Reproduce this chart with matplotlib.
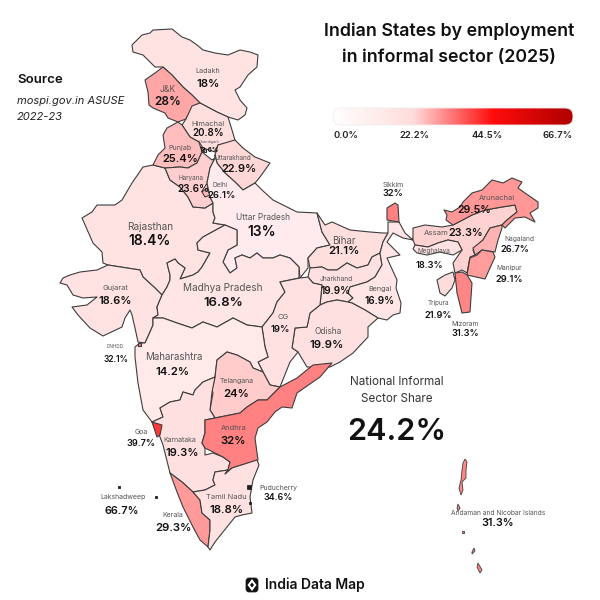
import matplotlib
matplotlib.use('Agg')
import matplotlib.pyplot as plt
import numpy as np
from matplotlib.colors import LinearSegmentedColormap
from matplotlib.patches import FancyBboxPatch, Polygon

plt.rcParams['font.family'] = ['Inter', 'DejaVu Sans']

# informal sector share by state, %
states = ['Ladakh', 'J&K', 'Himachal', 'Punjab', 'Uttarakhand', 'Haryana', 'Delhi', 'Chandigarh',
          'Rajasthan', 'Gujarat', 'Uttar Pradesh', 'Madhya Pradesh', 'Bihar', 'Jharkhand', 'Bengal',
          'Odisha', 'CG', 'Maharashtra', 'Telangana', 'Andhra', 'Goa', 'Karnataka', 'Kerala',
          'Tamil Nadu', 'Sikkim', 'Assam', 'Meghalaya', 'Arunachal', 'Nagaland', 'Manipur',
          'Mizoram', 'Tripura', 'Andaman and Nicobar Islands', 'DNHDD', 'Puducherry', 'Lakshadweep']
shares = [18, 28, 20.8, 25.4, 22.9, 23.6, 26.1, 18.6,
          18.4, 18.6, 13, 16.8, 21.1, 19.9, 16.9,
          19.9, 19, 14.2, 24, 32, 39.7, 19.3, 29.3,
          18.8, 32, 23.3, 18.3, 29.5, 26.7, 29.1,
          31.3, 21.9, 31.3, 32.1, 34.6, 66.7]
value_text = {s: f'{v:g}%' for s, v in zip(states, shares)}

legend_ticks = [0.0, 22.2, 44.5, 66.7]
legend_colors = ['#ffffff', '#ffdcdc', '#ff0c0c', '#b00000']

# outlines in image pixels
outlines = {
    'Rajasthan': [(153,165),(165,168),(170,180),(180,187),(188,197),(193,207),(205,208),(213,203),(213,212),(215,218),(213,223),(225,225),(203,237),(197,243),(198,250),(210,253),(202,267),(198,272),(193,275),(180,279),(185,268),(178,263),(175,259),(167,263),(170,275),(170,280),(167,287),(162,295),(155,288),(143,277),(140,270),(127,268),(108,265),(103,263),(102,252),(93,243),(82,218),(92,212),(97,205),(115,205),(122,200),(132,183),(143,167)],
    'Ladakh': [(132,45),(142,35),(150,33),(153,30),(172,29),(182,37),(190,40),(197,45),(203,50),(215,53),(228,55),(240,50),(250,52),(258,55),(257,67),(248,75),(240,87),(235,90),(240,100),(247,108),(245,115),(238,120),(228,117),(217,112),(200,103),(192,95),(183,87),(172,75),(163,67),(155,67),(143,55),(133,52)],
    'J&K': [(163,67),(172,75),(183,87),(192,95),(200,103),(192,108),(186,119),(178,122),(168,118),(165,113),(153,108),(149,105),(148,92),(145,80),(155,73)],
    'Himachal': [(192,106),(200,103),(217,112),(228,117),(232,130),(235,140),(228,143),(218,145),(215,152),(203,148),(199,142),(190,137),(182,125),(186,119)],
    'Punjab': [(178,122),(182,125),(190,137),(199,142),(202,152),(197,163),(188,168),(180,167),(165,168),(153,165),(158,155),(165,148),(163,135),(167,128)],
    'Uttarakhand': [(218,145),(235,140),(243,148),(255,157),(270,163),(260,177),(255,183),(243,190),(235,182),(225,173),(217,163),(215,155)],
    'Haryana': [(202,152),(212,160),(215,158),(210,168),(207,183),(210,197),(213,203),(205,208),(193,207),(188,197),(180,187),(170,180),(165,168),(180,167),(188,168),(197,163)],
    'Delhi': [(202,192),(207,188),(210,195),(205,197)],
    'Chandigarh': [(203,149),(206,149),(206,152),(203,152)],
    'Gujarat': [(70,275),(80,272),(97,270),(108,265),(127,268),(140,270),(143,277),(155,288),(162,295),(157,307),(158,315),(153,318),(153,325),(150,332),(145,343),(138,342),(135,328),(132,315),(130,310),(125,318),(122,327),(103,336),(90,328),(78,315),(72,307),(87,305),(97,297),(83,298),(73,295),(67,285),(60,283),(63,278)],
    'Uttar Pradesh': [(215,155),(217,163),(225,173),(235,182),(243,190),(255,183),(262,190),(273,200),(297,212),(317,213),(322,232),(330,245),(317,248),(308,258),(308,268),(300,278),(299,267),(290,258),(280,255),(273,258),(263,258),(257,253),(250,258),(242,255),(235,258),(237,268),(230,273),(223,262),(228,250),(237,245),(237,230),(225,225),(213,223),(215,218),(213,212),(213,203),(210,197),(207,183),(210,168),(215,158)],
    'Madhya Pradesh': [(162,295),(167,287),(170,280),(170,275),(167,263),(175,259),(178,263),(185,268),(180,279),(193,275),(198,272),(202,267),(210,253),(198,250),(197,243),(203,237),(225,225),(237,230),(237,245),(228,250),(223,262),(230,273),(237,268),(235,258),(242,255),(250,258),(257,253),(263,258),(273,258),(280,255),(290,258),(299,267),(299,278),(280,282),(285,292),(277,302),(273,313),(262,327),(247,325),(233,318),(217,327),(203,322),(192,328),(177,323),(163,318),(153,318),(158,315),(157,307)],
    'Bihar': [(317,213),(325,225),(332,222),(350,230),(370,232),(383,233),(388,233),(383,242),(380,253),(372,257),(368,265),(357,268),(347,263),(337,270),(328,270),(322,267),(310,268),(308,258),(317,248),(330,245),(322,232)],
    'Jharkhand': [(310,268),(322,267),(328,270),(337,270),(347,263),(357,268),(368,265),(372,257),(380,253),(382,265),(375,277),(367,282),(350,287),(348,293),(353,298),(348,302),(337,300),(327,302),(320,305),(322,285),(313,283),(308,277)],
    'Bengal': [(388,233),(388,222),(399,222),(405,233),(413,240),(415,228),(413,240),(403,238),(393,233),(387,242),(395,250),(400,255),(387,258),(397,280),(396,288),(401,303),(400,313),(393,315),(387,320),(378,318),(365,310),(352,303),(348,302),(353,298),(348,293),(350,287),(367,282),(375,277),(382,265),(380,253),(383,242)],
    'Odisha': [(320,305),(327,302),(337,300),(348,302),(352,303),(365,310),(378,318),(368,327),(368,337),(353,353),(340,362),(330,367),(313,367),(307,367),(298,352),(292,348),(295,328),(307,327),(310,313)],
    'CG': [(280,282),(300,278),(308,277),(313,283),(322,285),(320,305),(310,313),(307,327),(295,328),(292,348),(298,352),(290,362),(280,387),(270,385),(263,372),(258,362),(268,357),(265,347),(262,327),(273,313),(277,302),(285,292)],
    'Maharashtra': [(153,318),(163,318),(177,323),(192,328),(203,322),(217,327),(233,318),(247,325),(262,327),(265,347),(268,357),(258,362),(263,372),(253,368),(250,362),(237,355),(227,352),(217,360),(215,377),(203,382),(195,390),(193,395),(183,392),(180,400),(170,402),(160,408),(163,417),(152,422),(143,410),(138,383),(135,357),(135,347),(140,343),(145,343),(150,332),(153,325)],
    'Telangana': [(227,352),(237,355),(250,362),(253,368),(263,372),(270,385),(280,387),(267,400),(258,400),(247,407),(240,413),(215,418),(210,410),(213,393),(212,390),(215,377),(217,360)],
    'Karnataka': [(152,422),(163,417),(160,408),(170,402),(180,400),(183,392),(193,395),(195,390),(203,382),(215,377),(212,392),(210,410),(215,418),(205,420),(205,433),(202,443),(205,448),(205,455),(213,453),(223,457),(230,462),(228,470),(215,472),(213,480),(215,485),(205,490),(193,492),(182,482),(170,473),(163,445),(160,437)],
    'Andhra': [(215,418),(240,413),(247,407),(258,400),(267,400),(280,387),(297,378),(313,365),(332,363),(320,377),(297,393),(292,408),(282,407),(275,412),(267,422),(258,428),(255,438),(258,460),(232,468),(225,474),(228,470),(230,462),(223,457),(215,453),(205,448),(202,443),(205,433),(205,420)],
    'Goa': [(152,422),(162,425),(160,435),(157,437)],
    'Kerala': [(170,473),(182,482),(193,492),(200,500),(202,513),(210,520),(210,530),(208,547),(200,540),(193,527),(183,507),(177,492)],
    'Tamil Nadu': [(193,492),(205,490),(215,485),(213,480),(215,472),(228,470),(225,474),(232,468),(257,460),(259,465),(253,480),(250,497),(252,513),(242,515),(235,517),(227,527),(215,542),(210,550),(208,547),(210,530),(210,520),(202,513),(200,500)],
    'Sikkim': [(387,208),(395,203),(398,205),(399,222),(387,220)],
    'Assam': [(413,228),(425,225),(442,227),(453,225),(472,215),(485,210),(502,207),(515,205),(517,212),(507,220),(502,225),(490,228),(483,240),(473,250),(475,255),(470,257),(467,273),(462,270),(455,273),(453,263),(462,250),(458,242),(448,240),(438,243),(428,247),(415,245),(413,240)],
    'Meghalaya': [(415,245),(428,247),(438,243),(448,240),(458,242),(462,250),(453,255),(440,252),(427,255),(417,253),(413,249)],
    'Arunachal': [(444,210),(452,212),(460,207),(463,202),(472,193),(482,190),(492,180),(503,183),(512,178),(522,182),(518,188),(525,193),(538,202),(538,208),(530,213),(535,222),(525,217),(515,218),(505,228),(502,225),(507,220),(517,212),(515,205),(502,207),(485,210),(472,215),(453,225),(446,220),(447,215)],
    'Nagaland': [(502,225),(490,228),(483,240),(473,248),(475,255),(482,250),(495,252),(498,240),(502,228)],
    'Manipur': [(482,250),(493,252),(495,257),(485,279),(467,275),(470,258),(477,255)],
    'Mizoram': [(455,273),(462,272),(467,275),(472,283),(470,312),(462,313),(457,293)],
    'Tripura': [(437,280),(445,275),(453,272),(455,280),(452,288),(445,296),(440,293)],
    'DNHDD': [(138,343),(141,343),(141,346),(138,346)],
}
# the Andaman and Nicobar chain, smallest specks included
island_groups = {
    'Andaman and Nicobar Islands': [
        [(465,459),(467,462),(466,470),(466,478),(462,482),(463,490),(461,495),(459,488),(461,480),(462,470),(463,463)],
        [(458,504),(460,508),(458,511),(457,508)],
        [(462,531),(464,531),(464,533),(462,533)],
        [(474,548),(475,551),(472,554),(472,552)],
        [(478,563),(482,570),(480,573),(477,567)],
    ],
    'Puducherry': [
        [(247,485),(251,485),(251,489),(247,489)],
        [(249,502),(251,502),(251,504),(249,504)],
    ],
    'Lakshadweep': [
        [(118,486),(120,486),(120,488),(118,488)],
        [(155,496),(157,496),(157,498),(155,498)],
    ],
}

# label name / value anchors: name x, name y, value x, value y, name size, value size
labels = {
    'Ladakh': (208, 71, 208, 84, 5.2, 8.2),
    'J&K': (168, 90, 168, 102, 6.2, 8.5),
    'Himachal': (208, 124, 208, 133, 5.4, 7),
    'Chandigarh': (209, 142, 209, 150, 2.8, 4.5),
    'Punjab': (180, 148, 180, 159, 5.2, 8),
    'Uttarakhand': (233, 158, 239, 169, 4.6, 8),
    'Haryana': (191, 178, 193, 189, 4.6, 7.2),
    'Delhi': (220, 185, 222, 195, 4.6, 6.8),
    'Rajasthan': (150, 227, 150, 241, 7.2, 10),
    'Uttar Pradesh': (263, 217, 262, 232, 6, 10),
    'Gujarat': (115, 288, 115, 301, 5.4, 8),
    'Madhya Pradesh': (223, 288, 223, 303, 7.2, 9.5),
    'Bihar': (344, 241, 344, 251, 7, 8.2),
    'Jharkhand': (336, 279, 336, 291, 4.8, 7.2),
    'Bengal': (380, 289, 380, 301, 5.2, 7.2),
    'CG': (283, 317, 280, 329, 5.4, 6.8),
    'Odisha': (328, 332, 327, 345, 6, 8.2),
    'Maharashtra': (174, 357, 172, 372, 7, 8.2),
    'Telangana': (237, 381, 236, 394, 5, 8.2),
    'Andhra': (234, 428, 233, 441, 5.4, 8.2),
    'Goa': (141, 432, 141, 443, 5, 6.6),
    'Karnataka': (180, 440, 182, 453, 5, 8),
    'Lakshadweep': (123, 497, 122, 511, 5, 7.8),
    'Kerala': (173, 515, 173, 528, 5, 8.2),
    'Tamil Nadu': (226, 497, 226, 510, 5.4, 8.2),
    'Puducherry': (278, 488, 278, 498, 5, 6.4),
    'Sikkim': (393, 185, 393, 194, 5, 6.6),
    'Assam': (436, 233, 466, 233, 5.6, 7.8),
    'Meghalaya': (434, 251, 429, 266, 4.6, 6.6),
    'Arunachal': (497, 198, 474, 210, 5.4, 7.6),
    'Nagaland': (519, 239, 515, 250, 4.8, 6.6),
    'Manipur': (509, 268, 509, 279, 4.8, 6.6),
    'Tripura': (438, 303, 438, 315, 4.6, 6.6),
    'Mizoram': (465, 324, 465, 334, 4.8, 6.6),
    'DNHDD': (115, 347, 116, 359, 3.4, 6),
    'Andaman and Nicobar Islands': (498, 513, 498, 523, 4.8, 7.8),
}

cmap = LinearSegmentedColormap.from_list('share', [(v / legend_ticks[-1], c) for v, c in zip(legend_ticks, legend_colors)])
share_of = dict(zip(states, shares))

fig = plt.figure(figsize=(6, 6), dpi=100)
ax = fig.add_axes([0, 0, 1, 1])
ax.set_xlim(0, 600)
ax.set_ylim(600, 0)
ax.axis('off')

edge = '#3d3d3d'
for name, pts in outlines.items():
    color = cmap(share_of[name] / legend_ticks[-1])
    ax.add_patch(Polygon(pts, closed=True, facecolor=color, edgecolor=edge, linewidth=0.8, joinstyle='round'))
for name, parts in island_groups.items():
    color = cmap(share_of[name] / legend_ticks[-1])
    if name == 'Andaman and Nicobar Islands':
        edge_i = edge
    else:
        color = '#222222'
        edge_i = '#222222'
    for pts in parts:
        ax.add_patch(Polygon(pts, closed=True, facecolor=color, edgecolor=edge_i, linewidth=0.6))

for name, (nx, ny, vx, vy, ns, vs) in labels.items():
    ax.text(nx, ny, name, ha='center', va='center', fontsize=ns, color='#555555')
    ax.text(vx, vy, value_text[name], ha='center', va='center', fontsize=vs, fontweight='semibold', color='#111111')

# title and side notes
ax.text(449, 31, 'Indian States by employment', ha='center', va='center', fontsize=12.8, fontweight='semibold', color='#111111')
ax.text(449, 58, 'in informal sector (2025)', ha='center', va='center', fontsize=12.8, fontweight='semibold', color='#111111')
ax.text(17, 80, 'Source', ha='left', va='center', fontsize=9.5, fontweight='semibold', color='#111111')
ax.text(17, 101, 'mospi.gov.in ASUSE', ha='left', va='center', fontsize=8, style='italic', color='#222222')
ax.text(17, 117, '2022-23', ha='left', va='center', fontsize=8, style='italic', color='#222222')
ax.text(397, 382, 'National Informal', ha='center', va='center', fontsize=8.4, color='#333333')
ax.text(397, 399, 'Sector Share', ha='center', va='center', fontsize=8.4, color='#333333')
ax.text(397, 432, '24.2%', ha='center', va='center', fontsize=22, fontweight='semibold', color='#111111')

# legend bar
gradient = np.linspace(0, 1, 256).reshape(1, -1)
bar = ax.imshow(gradient, cmap=cmap, extent=(333, 573, 125, 108), aspect='auto', zorder=2)
frame = FancyBboxPatch((337, 108), 232, 17, boxstyle='round,pad=0,rounding_size=8', mutation_aspect=1,
                       facecolor='none', edgecolor='#eeeeee', linewidth=0.6, zorder=3)
frame.set_boxstyle('round,pad=4,rounding_size=8')
frame.set_bounds(337, 112, 232, 9)
ax.add_patch(frame)
bar.set_clip_path(frame)
ax.set_xlim(0, 600)
ax.set_ylim(600, 0)
for tick, x, ha in zip(legend_ticks, [333, 414, 487, 573], ['left', 'center', 'center', 'right']):
    ax.text(x, 135, f'{tick:.1f}%', ha=ha, va='center', fontsize=6.8, fontweight='semibold', color='#222222')

# footer logo
ax.add_patch(FancyBboxPatch((246, 578), 12, 14, boxstyle='round,pad=0,rounding_size=3', facecolor='#111111', edgecolor='#111111', linewidth=0.5))
ax.add_patch(Polygon([(252, 579), (256.5, 585), (252, 591), (247.5, 585)], closed=True, facecolor='white', edgecolor='none'))
ax.add_patch(Polygon([(252, 582.5), (254, 585), (252, 587.5), (250, 585)], closed=True, facecolor='#111111', edgecolor='none'))
ax.text(265, 585, 'India Data Map', ha='left', va='center', fontsize=10, fontweight='semibold', color='#111111')

fig.savefig('out.png', dpi=100, facecolor='white')
